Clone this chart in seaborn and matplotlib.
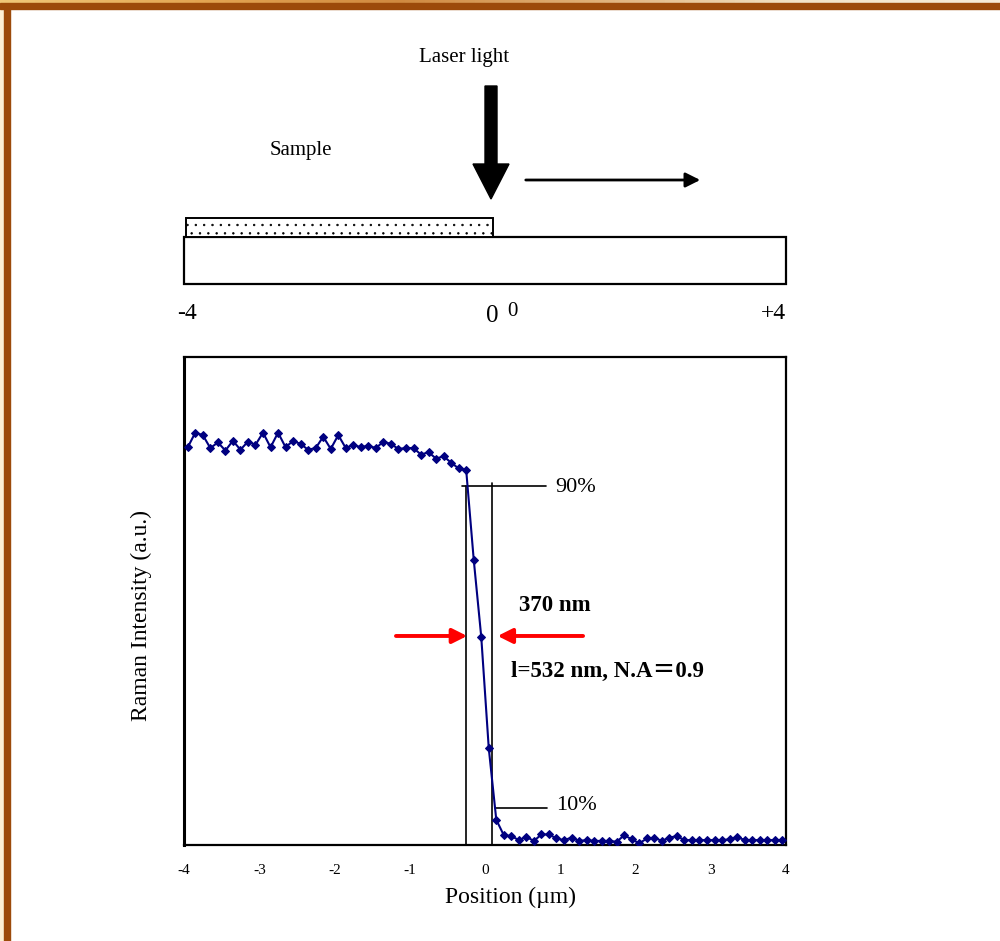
import numpy as np
import seaborn as sns
import matplotlib.pyplot as plt
from matplotlib.patches import Rectangle, Polygon
from matplotlib.colors import LinearSegmentedColormap

sns.set_style("white")
plt.rcParams["font.family"] = ["Liberation Serif", "Noto Sans CJK JP"]
plt.rcParams["axes.unicode_minus"] = False
plt.rcParams["text.color"] = "black"
plt.rcParams["axes.labelcolor"] = "black"
plt.rcParams["xtick.labelcolor"] = "black"
plt.rcParams["hatch.color"] = "#444444"
plt.rcParams["hatch.linewidth"] = 0.5

# line scan across the sample edge, 0.1 um steps
position = np.round(np.linspace(-3.95, 3.95, 80), 2)
plateau = [4.89, 5.07, 5.04, 4.88, 4.95, 4.85, 4.97, 4.86, 4.96, 4.92,
           5.07, 4.89, 5.07, 4.89, 4.97, 4.93, 4.86, 4.88, 5.02, 4.87,
           5.04, 4.88, 4.92, 4.89, 4.91, 4.88, 4.96, 4.93, 4.87, 4.88,
           4.88, 4.80, 4.83, 4.75, 4.78, 4.70, 4.63, 4.61]
edge = [3.51, 2.56, 1.19]
baseline = [0.31, 0.12, 0.11, 0.06, 0.10, 0.05, 0.13, 0.13, 0.08, 0.06,
            0.09, 0.05, 0.06, 0.05, 0.05, 0.05, 0.04, 0.12, 0.07, 0.02,
            0.08, 0.09, 0.05, 0.09, 0.11, 0.06, 0.06, 0.06, 0.06, 0.06,
            0.06, 0.07, 0.10, 0.06, 0.06, 0.06, 0.06, 0.06, 0.06]
intensity = plateau + edge + baseline

x_ticks = [-4, -3, -2, -1, 0, 1, 2, 3, 4]
y_ticks = [1, 2, 3, 4, 5]
level_90 = 4.41
level_10 = 0.46
edge_left = -0.25
edge_right = 0.09

NAVY = "#000080"
BROWN = "#9c4a0a"

fig = plt.figure(figsize=(10, 9.41), dpi=100)

# ---- frame decoration ----
grad = LinearSegmentedColormap.from_list(
    "top", ["#f0c878", "#e3a552", "#d08a40", "#e0b27a", "#f3e4c8", "#f7ecd8"])
gax = fig.add_axes([0, 1 - 3.5 / 941, 1, 3.5 / 941])
gax.imshow(np.linspace(0, 1, 200).reshape(1, -1), cmap=grad, aspect="auto")
gax.axis("off")
fig.add_artist(Rectangle((0, 0), 4 / 1000, 1 - 3.5 / 941, transform=fig.transFigure,
                         color="#fdf0d5", zorder=0))
fig.add_artist(Rectangle((0, 1 - 9 / 941), 1, 5.5 / 941, transform=fig.transFigure,
                         color=BROWN, zorder=5))
fig.add_artist(Rectangle((4 / 1000, 0), 6 / 1000, 1 - 3.5 / 941, transform=fig.transFigure,
                         color=BROWN, zorder=5))

# ---- main plot ----
ax = fig.add_axes([0.184, 1 - 845 / 941, 0.602, 488 / 941])
sns.lineplot(x=position, y=intensity, ax=ax, color=NAVY, linewidth=1.5,
             marker="D", markersize=4, markeredgecolor=NAVY, zorder=3)
ax.set_xlim(-4, 4)
ax.set_ylim(0, 6)
ax.set_xticks(x_ticks)
ax.set_xticklabels([str(t) for t in x_ticks], fontsize=11)
ax.set_yticks(y_ticks)
ax.set_yticklabels([])
ax.tick_params(axis="both", direction="in", length=5, width=1.2, color="#666666")
ax.tick_params(axis="x", pad=14)
for sp in ax.spines.values():
    sp.set_color("black")
    sp.set_linewidth(1.6)
ax.spines["left"].set_linewidth(2.2)
ax.set_xlabel("Position (\u00b5m)", fontsize=17)
ax.set_ylabel("Raman Intensity (a.u.)", fontsize=17)
ax.xaxis.set_label_coords(0.543, -0.085)
ax.yaxis.set_label_coords(-0.053, 0.47)

# 90% / 10% guides
ax.plot([edge_left, edge_left], [0, level_90], color="black", lw=1.2, zorder=2)
ax.plot([edge_right, edge_right], [0, level_90 + 0.04], color="black", lw=1.2, zorder=2)
ax.plot([-0.3, 0.81], [level_90, level_90], color="black", lw=1.2, zorder=2)
ax.plot([0.13, 0.82], [level_10, level_10], color="black", lw=1.2, zorder=2)
ax.text(0.93, level_90 - 0.02, "90%", fontsize=16, va="center", ha="left")
ax.text(0.94, level_10 + 0.02, "10%", fontsize=16, va="center", ha="left")

# width arrows
ax.annotate("", xy=(-0.2, 2.57), xytext=(-1.22, 2.57),
            arrowprops=dict(arrowstyle="-|>", color="red", lw=2.8, mutation_scale=22))
ax.annotate("", xy=(0.13, 2.57), xytext=(1.34, 2.57),
            arrowprops=dict(arrowstyle="-|>", color="red", lw=2.8, mutation_scale=22))
ax.text(0.93, 2.94, "370 nm", fontsize=16.5, fontweight="bold", ha="center", va="center")
ax.text(0.35, 2.13, "l=532 nm, N.A\uff1d0.9", fontsize=16.5, fontweight="bold",
        ha="left", va="center")

# ---- schematic on top ----
dax = fig.add_axes([0.184, 1 - 330 / 941, 0.602, 300 / 941])
dax.set_xlim(-4, 4)
dax.set_ylim(330, 30)
dax.axis("off")


def px(p):
    return (p - 184) / 75.25 - 4


dax.add_patch(Rectangle((-4, 237), 8, 47, facecolor="white", edgecolor="black",
                        lw=1.6, clip_on=False))
dax.add_patch(Rectangle((px(186), 218), px(493) - px(186), 19, facecolor="white",
                        edgecolor="black", lw=1.4, hatch="..", clip_on=False))
dax.add_patch(Polygon([(px(485), 86), (px(497), 86), (px(497), 164), (px(509), 164),
                       (px(491), 199), (px(473), 164), (px(485), 164)],
                      closed=True, facecolor="black", edgecolor="black", clip_on=False))
dax.annotate("", xy=(px(703), 180), xytext=(px(523), 180),
             arrowprops=dict(arrowstyle="-|>", color="black", lw=2, mutation_scale=22))
dax.text(px(464), 57, "Laser light", fontsize=15, ha="center", va="center")
dax.text(px(301), 150, "Sample", fontsize=15, ha="center", va="center")
dax.text(px(187), 313, "-4", fontsize=17, ha="center", va="center")
dax.text(px(492), 316, "0", fontsize=18, ha="center", va="center")
dax.text(px(512), 311, "0", fontsize=15, ha="center", va="center")
dax.text(px(773), 313, "+4", fontsize=17, ha="center", va="center")

fig.savefig("out.png", dpi=100, facecolor="white")
